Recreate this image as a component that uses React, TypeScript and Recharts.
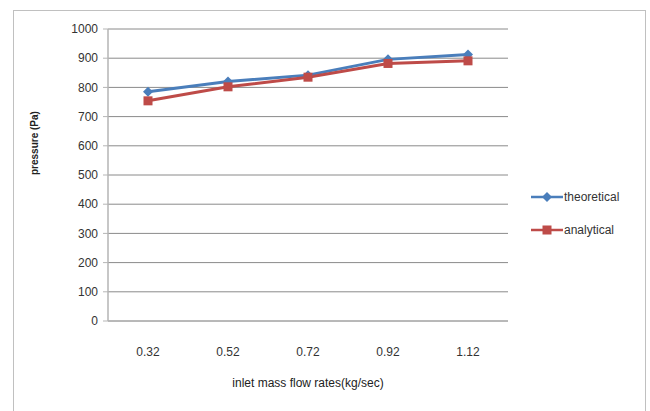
import { CartesianGrid, Line, LineChart, XAxis, YAxis } from 'recharts';

const flowRates = ['0.32', '0.52', '0.72', '0.92', '1.12'];
const theoretical = [785, 820, 842, 896, 913];
const analytical = [754, 802, 835, 882, 891];
const yTicks = [0, 100, 200, 300, 400, 500, 600, 700, 800, 900, 1000];

const data = flowRates.map((rate, i) => ({
  rate,
  theoretical: theoretical[i],
  analytical: analytical[i],
}));

const BLUE = '#4a7ebb';
const RED = '#be4b48';
const FONT = '"Liberation Sans", Arial, sans-serif';

const Diamond = (props: any) => {
  const { cx, cy } = props;
  if (cx == null || cy == null) return null;
  return <path d={`M${cx},${cy - 5}L${cx + 5},${cy}L${cx},${cy + 5}L${cx - 5},${cy}Z`} fill={BLUE} />;
};

const Square = (props: any) => {
  const { cx, cy } = props;
  if (cx == null || cy == null) return null;
  return <rect x={cx - 4.5} y={cy - 4.5} width={9} height={9} fill={RED} />;
};

const LegendBox = () => (
  <div style={{ position: 'absolute', left: 531, top: 180, fontFamily: FONT, fontSize: 12, color: '#333' }}>
    <div style={{ display: 'flex', alignItems: 'center', height: 33 }}>
      <svg width={32} height={12}>
        <line x1={0} y1={6} x2={32} y2={6} stroke={BLUE} strokeWidth={2.5} />
        <path d='M16,1L21,6L16,11L11,6Z' fill={BLUE} />
      </svg>
      <span style={{ marginLeft: 1 }}>theoretical</span>
    </div>
    <div style={{ display: 'flex', alignItems: 'center', height: 33 }}>
      <svg width={32} height={12}>
        <line x1={0} y1={6} x2={32} y2={6} stroke={RED} strokeWidth={2.5} />
        <rect x={11.5} y={1.5} width={9} height={9} fill={RED} />
      </svg>
      <span style={{ marginLeft: 1 }}>analytical</span>
    </div>
  </div>
);

const App = () => {
  return (
    <div style={{ position: 'absolute', left: 0, top: 0, width: 650, height: 411, background: '#fff', overflow: 'hidden' }}>
      <div
        style={{
          position: 'absolute',
          left: 13,
          top: 10,
          width: 633,
          height: 420,
          border: '1.5px solid #c0c0c0',
          boxSizing: 'border-box',
        }}
      />
      <LineChart
        width={650}
        height={411}
        data={data}
        margin={{ top: 29, right: 142, left: 58, bottom: 50 }}
        style={{ position: 'absolute', left: 0, top: 0 }}
      >
        <CartesianGrid vertical={false} stroke='#8a8a8a' strokeWidth={1} />
        <XAxis
          dataKey='rate'
          padding={{ left: 40, right: 40 }}
          axisLine={{ stroke: '#b5b5b5', strokeWidth: 1.5 }}
          tickLine={false}
          tick={{ fill: '#333', fontSize: 12, fontFamily: FONT, dy: 18 }}
          height={40}
          label={{
            value: 'inlet mass flow rates(kg/sec)',
            position: 'insideBottom',
            offset: -26,
            fill: '#222',
            fontSize: 12,
            fontFamily: FONT,
          }}
        />
        <YAxis
          domain={[0, 1000]}
          ticks={yTicks}
          width={50}
          axisLine={{ stroke: '#b5b5b5', strokeWidth: 1.5 }}
          tickLine={{ stroke: '#b5b5b5' }}
          tickSize={5}
          tick={{ fill: '#333', fontSize: 12, fontFamily: FONT, dx: -3 }}
          label={{
            value: 'pressure (Pa)',
            angle: -90,
            position: 'insideLeft',
            offset: -24,
            fill: '#222',
            fontSize: 10,
            fontWeight: 'bold',
            fontFamily: FONT,
          }}
        />
        <Line
          type='linear'
          dataKey='theoretical'
          stroke={BLUE}
          strokeWidth={3}
          dot={<Diamond />}
          isAnimationActive={false}
        />
        <Line
          type='linear'
          dataKey='analytical'
          stroke={RED}
          strokeWidth={3}
          dot={<Square />}
          isAnimationActive={false}
        />
      </LineChart>
      <LegendBox />
    </div>
  );
};

export default App;
